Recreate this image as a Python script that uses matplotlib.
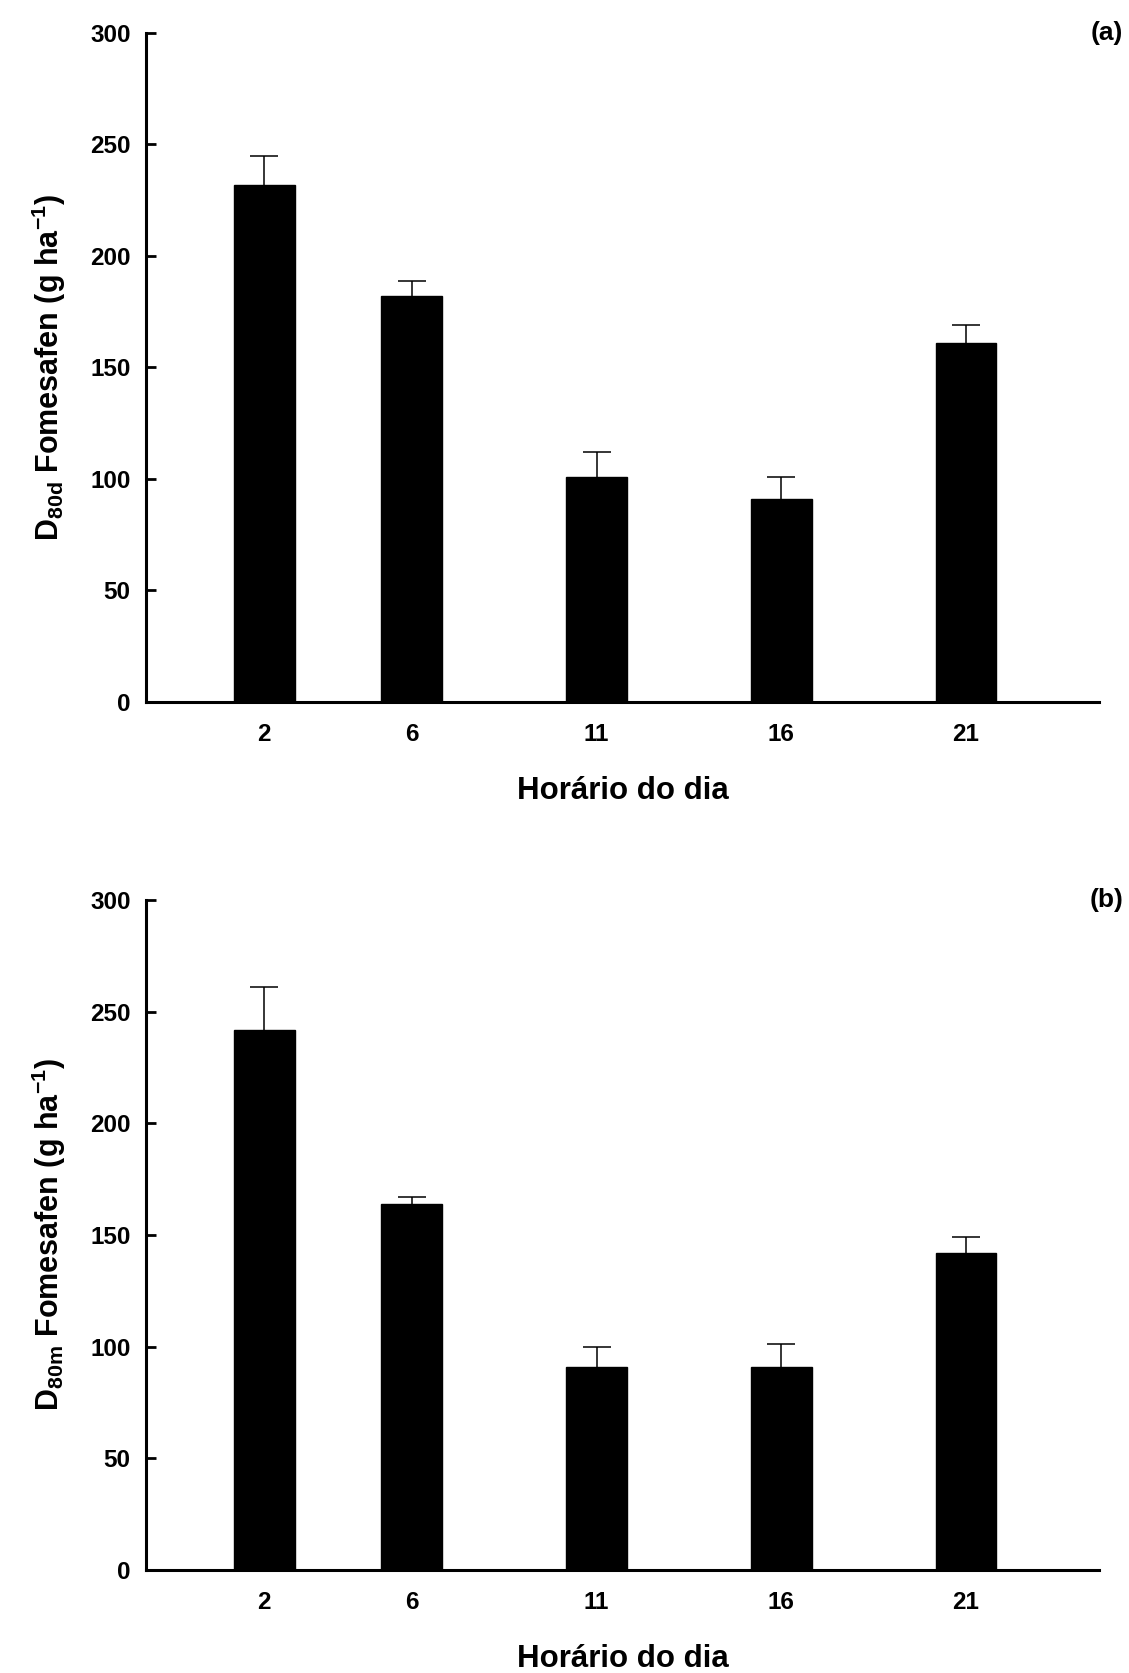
import matplotlib
matplotlib.use("Agg")
import matplotlib.pyplot as plt

plt.rcParams['font.family'] = ['Liberation Sans', 'DejaVu Sans']
plt.rcParams['font.weight'] = 'bold'
plt.rcParams['mathtext.fontset'] = 'custom'
plt.rcParams['mathtext.rm'] = 'Liberation Sans:bold'
plt.rcParams['mathtext.bf'] = 'Liberation Sans:bold'
plt.rcParams['mathtext.it'] = 'Liberation Sans:bold'

hours = [2, 6, 11, 16, 21]
d80d = [232, 182, 101, 91, 161]
d80d_err = [13, 7, 11, 10, 8]
d80m = [242, 164, 91, 91, 142]
d80m_err = [19, 3, 9, 10, 7]
yticks = [0, 50, 100, 150, 200, 250, 300]

fig = plt.figure(figsize=(11.29, 16.73), dpi=100)

panels = [
    ([0.1293, 0.5804, 0.8441, 0.3999], d80d, d80d_err,
     r'$\mathbf{D_{80d}}$ Fomesafen (g ha$^{\mathbf{-1}}$)', '(a)'),
    ([0.1293, 0.0616, 0.8441, 0.4004], d80m, d80m_err,
     r'$\mathbf{D_{80m}}$ Fomesafen (g ha$^{\mathbf{-1}}$)', '(b)'),
]

for rect, vals, errs, ylab, tag in panels:
    ax = fig.add_axes(rect)
    ax.bar(hours, vals, width=1.65, color='black', edgecolor='black', zorder=2)
    eb = ax.errorbar(hours, vals, yerr=[[0]*len(errs), errs], fmt='none',
                     ecolor='black', elinewidth=1.1, capsize=10, capthick=1.1, zorder=1)
    caps = eb[1]
    if len(caps) == 2:
        caps[0].set_visible(False)
    ax.set_xlim(-1.2, 24.6)
    ax.set_ylim(0, 300)
    ax.set_yticks(yticks)
    ax.set_xticks(hours)
    for s in ['top', 'right']:
        ax.spines[s].set_visible(False)
    for s in ['left', 'bottom']:
        ax.spines[s].set_linewidth(2.2)
    ax.tick_params(axis='y', direction='in', length=7, width=2, pad=11, labelsize=17.5)
    ax.tick_params(axis='x', length=0, pad=15, labelsize=17.5)
    for lbl in ax.get_xticklabels() + ax.get_yticklabels():
        lbl.set_fontweight('bold')
    ax.set_xlabel('Horário do dia', fontsize=22.5, fontweight='bold', labelpad=22)
    ax.set_ylabel(ylab, fontsize=22, fontweight='bold', labelpad=16)
    top = rect[1] + rect[3]
    fig.text(0.9947, top, tag, ha='right', va='center',
             fontsize=19, fontweight='bold')

fig.savefig('out.png', dpi=100)
